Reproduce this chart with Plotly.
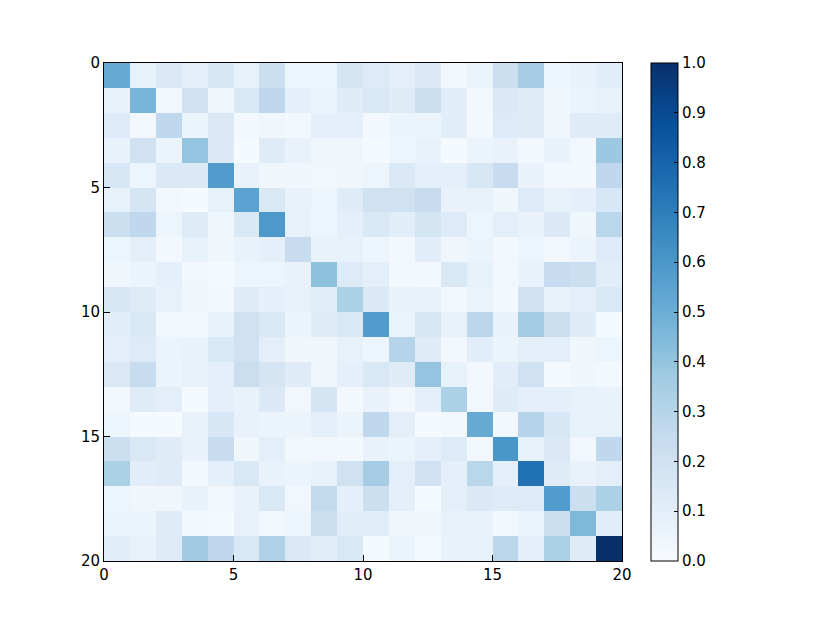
import plotly.graph_objects as go

# confusion-style matrix, rows top to bottom
row_00 = [0.52, 0.08, 0.14, 0.09, 0.16, 0.08, 0.22, 0.05, 0.05, 0.17, 0.13, 0.10, 0.14, 0.03, 0.06, 0.22, 0.35, 0.05, 0.07, 0.11]
row_01 = [0.08, 0.47, 0.03, 0.20, 0.04, 0.15, 0.27, 0.09, 0.06, 0.12, 0.15, 0.12, 0.23, 0.11, 0.02, 0.14, 0.12, 0.04, 0.06, 0.08]
row_02 = [0.13, 0.03, 0.27, 0.06, 0.14, 0.02, 0.04, 0.02, 0.09, 0.10, 0.02, 0.06, 0.06, 0.11, 0.02, 0.13, 0.12, 0.04, 0.12, 0.12]
row_03 = [0.08, 0.20, 0.06, 0.40, 0.14, 0.01, 0.12, 0.07, 0.04, 0.04, 0.01, 0.05, 0.07, 0.01, 0.06, 0.07, 0.02, 0.07, 0.03, 0.38]
row_04 = [0.16, 0.05, 0.14, 0.14, 0.58, 0.07, 0.04, 0.04, 0.03, 0.04, 0.05, 0.14, 0.09, 0.09, 0.16, 0.24, 0.07, 0.02, 0.02, 0.27]
row_05 = [0.08, 0.17, 0.02, 0.01, 0.08, 0.55, 0.15, 0.07, 0.05, 0.12, 0.20, 0.20, 0.24, 0.07, 0.08, 0.04, 0.13, 0.08, 0.09, 0.16]
row_06 = [0.22, 0.27, 0.05, 0.12, 0.04, 0.15, 0.59, 0.08, 0.05, 0.09, 0.15, 0.11, 0.18, 0.13, 0.05, 0.10, 0.07, 0.14, 0.04, 0.29]
row_07 = [0.05, 0.10, 0.02, 0.08, 0.04, 0.07, 0.09, 0.24, 0.07, 0.08, 0.05, 0.02, 0.11, 0.04, 0.06, 0.02, 0.05, 0.03, 0.06, 0.13]
row_08 = [0.04, 0.06, 0.09, 0.03, 0.01, 0.05, 0.05, 0.07, 0.42, 0.13, 0.10, 0.02, 0.02, 0.15, 0.08, 0.03, 0.07, 0.25, 0.22, 0.11]
row_09 = [0.16, 0.12, 0.08, 0.04, 0.03, 0.12, 0.09, 0.08, 0.11, 0.33, 0.14, 0.07, 0.08, 0.03, 0.06, 0.02, 0.20, 0.07, 0.10, 0.15]
row_10 = [0.11, 0.15, 0.03, 0.02, 0.07, 0.20, 0.15, 0.06, 0.12, 0.15, 0.58, 0.06, 0.16, 0.08, 0.28, 0.07, 0.36, 0.23, 0.12, 0.01]
row_11 = [0.10, 0.13, 0.06, 0.07, 0.15, 0.20, 0.10, 0.04, 0.04, 0.08, 0.05, 0.30, 0.12, 0.03, 0.11, 0.06, 0.10, 0.10, 0.04, 0.05]
row_12 = [0.14, 0.24, 0.06, 0.08, 0.09, 0.23, 0.17, 0.12, 0.04, 0.09, 0.15, 0.12, 0.40, 0.08, 0.02, 0.11, 0.20, 0.01, 0.04, 0.02]
row_13 = [0.02, 0.12, 0.10, 0.01, 0.09, 0.07, 0.14, 0.03, 0.17, 0.02, 0.07, 0.03, 0.09, 0.33, 0.03, 0.12, 0.09, 0.09, 0.08, 0.07]
row_14 = [0.05, 0.01, 0.01, 0.07, 0.16, 0.07, 0.06, 0.06, 0.09, 0.06, 0.27, 0.10, 0.01, 0.03, 0.52, 0.03, 0.30, 0.16, 0.08, 0.08]
row_15 = [0.22, 0.15, 0.12, 0.07, 0.24, 0.04, 0.10, 0.03, 0.03, 0.02, 0.07, 0.06, 0.09, 0.13, 0.03, 0.60, 0.08, 0.14, 0.03, 0.27]
row_16 = [0.33, 0.11, 0.12, 0.02, 0.09, 0.15, 0.07, 0.06, 0.08, 0.20, 0.35, 0.10, 0.20, 0.09, 0.29, 0.09, 0.75, 0.12, 0.07, 0.10]
row_17 = [0.05, 0.04, 0.04, 0.07, 0.03, 0.07, 0.15, 0.03, 0.26, 0.09, 0.22, 0.09, 0.01, 0.10, 0.14, 0.13, 0.13, 0.58, 0.22, 0.33]
row_18 = [0.06, 0.06, 0.12, 0.02, 0.01, 0.07, 0.03, 0.05, 0.23, 0.11, 0.11, 0.04, 0.04, 0.07, 0.07, 0.02, 0.06, 0.22, 0.45, 0.11]
row_19 = [0.11, 0.07, 0.12, 0.37, 0.27, 0.15, 0.32, 0.14, 0.11, 0.15, 0.01, 0.06, 0.01, 0.07, 0.08, 0.28, 0.09, 0.33, 0.12, 1.00]

matrix = [row_00, row_01, row_02, row_03, row_04, row_05, row_06, row_07, row_08, row_09,
          row_10, row_11, row_12, row_13, row_14, row_15, row_16, row_17, row_18, row_19]

axis_ticks = [0, 5, 10, 15, 20]
cbar_ticks = [0.0, 0.1, 0.2, 0.3, 0.4, 0.5, 0.6, 0.7, 0.8, 0.9, 1.0]

# matplotlib Blues
blues = [
    [0.0, '#f7fbff'],
    [0.125, '#deebf7'],
    [0.25, '#c6dbef'],
    [0.375, '#9ecae1'],
    [0.5, '#6baed6'],
    [0.625, '#4292c6'],
    [0.75, '#2171b5'],
    [0.875, '#08519c'],
    [1.0, '#08306b'],
]

fig = go.Figure(go.Heatmap(z=matrix,
                           x0=0.5, dx=1,
                           y0=0.5, dy=1,
                           colorscale=blues,
                           zmin=0, zmax=1,
                           colorbar=dict(x=1.056, xanchor='left',
                                         y=0.5, yanchor='middle',
                                         len=1, lenmode='fraction',
                                         thickness=27,
                                         outlinewidth=1, outlinecolor='black',
                                         tickvals=cbar_ticks,
                                         ticktext=['%.1f' % t for t in cbar_ticks],
                                         ticks='inside', ticklen=4,
                                         tickcolor='black',
                                         tickfont=dict(size=15, color='black'),
                                         ypad=0, xpad=0)
                           ))

axis_style = dict(showgrid=False, zeroline=False,
                  showline=True, linecolor='black', linewidth=1, mirror=True,
                  ticks='inside', ticklen=6, tickcolor='black',
                  tickvals=axis_ticks,
                  tickfont=dict(size=15, color='black'))

fig.update_xaxes(range=[0, 20], **axis_style)
fig.update_yaxes(range=[20, 0], **axis_style)

# the page body adds ~8px, so margins are pulled in to keep the plot in place
fig.update_layout(width=830, height=623,
                  margin=dict(l=96, r=216, t=55, b=70),
                  paper_bgcolor='white', plot_bgcolor='white',
                  font=dict(family='DejaVu Sans', color='black'))

fig.write_html("out.html")
